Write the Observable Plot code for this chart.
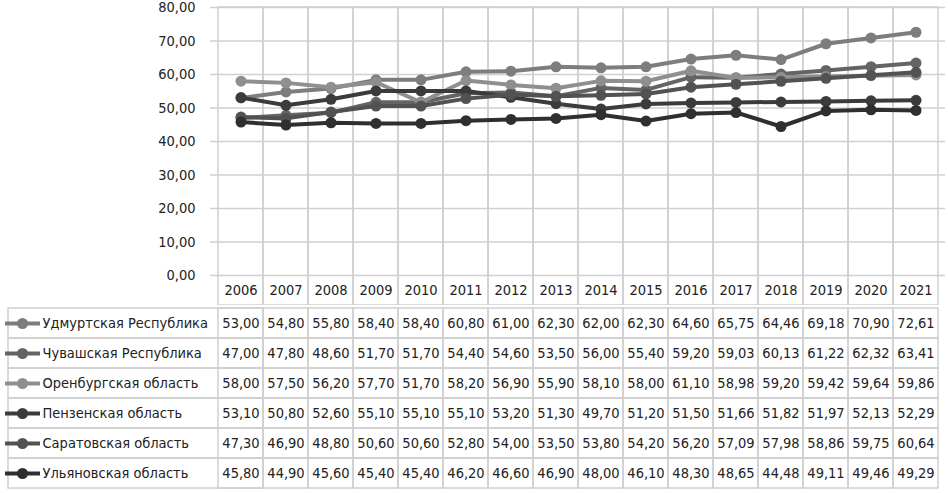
<!DOCTYPE html>
<html>
<head>
<meta charset="utf-8">
<script src="https://cdn.jsdelivr.net/npm/d3@7"></script>
<script src="https://cdn.jsdelivr.net/npm/@observablehq/plot@0.6"></script>
<style>
  html, body { margin: 0; padding: 0; background: #fff; }
  #chart svg { display: block; }
</style>
</head>
<body>
<div id="chart"></div>
<script>
const years = [2006, 2007, 2008, 2009, 2010, 2011, 2012, 2013, 2014, 2015, 2016, 2017, 2018, 2019, 2020, 2021];
const seriesNames = ["Удмуртская Республика", "Чувашская Республика", "Оренбургская область", "Пензенская область", "Саратовская область", "Ульяновская область"];
const udmurt    = [53.00, 54.80, 55.80, 58.40, 58.40, 60.80, 61.00, 62.30, 62.00, 62.30, 64.60, 65.75, 64.46, 69.18, 70.90, 72.61];
const chuvash   = [47.00, 47.80, 48.60, 51.70, 51.70, 54.40, 54.60, 53.50, 56.00, 55.40, 59.20, 59.03, 60.13, 61.22, 62.32, 63.41];
const orenburg  = [58.00, 57.50, 56.20, 57.70, 51.70, 58.20, 56.90, 55.90, 58.10, 58.00, 61.10, 58.98, 59.20, 59.42, 59.64, 59.86];
const penza     = [53.10, 50.80, 52.60, 55.10, 55.10, 55.10, 53.20, 51.30, 49.70, 51.20, 51.50, 51.66, 51.82, 51.97, 52.13, 52.29];
const saratov   = [47.30, 46.90, 48.80, 50.60, 50.60, 52.80, 54.00, 53.50, 53.80, 54.20, 56.20, 57.09, 57.98, 58.86, 59.75, 60.64];
const ulyanovsk = [45.80, 44.90, 45.60, 45.40, 45.40, 46.20, 46.60, 46.90, 48.00, 46.10, 48.30, 48.65, 44.48, 49.11, 49.46, 49.29];
const yTicks = [0, 10, 20, 30, 40, 50, 60, 70, 80];

const colors = ["#7d7d7d", "#646464", "#8f8f8f", "#3b3b3b", "#525252", "#2f2f2f"];
const gridColor = "#d0d0d0";
const font = "'DejaVu Sans Condensed', 'Liberation Sans', sans-serif";
const fs = 14.5;

const seriesValues = [udmurt, chuvash, orenburg, penza, saratov, ulyanovsk];
const rows = seriesNames.flatMap((name, i) => years.map((y, j) => ({series: name, year: y, value: seriesValues[i][j]})));
const fmt = v => d3.format(".2f")(v).replace(".", ",");

const W = 948;
const ML = 210, MR = 3;

const chartPlot = Plot.plot({
  width: W,
  height: 305,
  marginTop: 7,
  marginBottom: 30,
  marginLeft: ML,
  marginRight: MR,
  style: {fontFamily: font, fontSize: fs + "px", color: "#222", background: "#fff"},
  x: {type: "band", domain: years, padding: 0},
  y: {domain: [0, 80], ticks: yTicks},
  color: {domain: seriesNames, range: colors},
  marks: [
    Plot.ruleY(yTicks, {stroke: gridColor, strokeWidth: 1.5}),
    Plot.cell(years, {x: d => d, fill: "none", stroke: gridColor, strokeWidth: 1.5, insetBottom: -30}),
    Plot.axisY({ticks: yTicks, tickSize: 0, tickPadding: 15, tickFormat: fmt, label: null}),
    Plot.axisX({tickSize: 0, tickPadding: 9, tickFormat: d => String(d), label: null}),
    ...seriesNames.flatMap(name => {
      const d = rows.filter(r => r.series === name);
      return [
        Plot.line(d, {x: "year", y: "value", stroke: "series", strokeWidth: 4}),
        Plot.dot(d, {x: "year", y: "value", fill: "series", r: 5.5})
      ];
    })
  ]
});

const tablePlot = Plot.plot({
  width: W,
  height: 188,
  marginTop: 1,
  marginBottom: 3,
  marginLeft: ML,
  marginRight: MR,
  style: {fontFamily: font, fontSize: fs + "px", color: "#222", background: "#fff"},
  x: {type: "band", domain: years, padding: 0, axis: null},
  y: {type: "band", domain: seriesNames, padding: 0, axis: null},
  color: {domain: seriesNames, range: colors},
  marks: [
    Plot.cell(rows, {x: "year", y: "series", fill: "none", stroke: gridColor, strokeWidth: 1.5}),
    Plot.cell(seriesNames, {x: () => years[0], y: d => d, fill: "none", stroke: gridColor, strokeWidth: 1.5, insetLeft: -ML}),
    Plot.text(rows, {x: "year", y: "series", text: d => fmt(d.value), fill: "#222", fontSize: fs}),
    Plot.ruleY(seriesNames, {y: d => d, stroke: d => d, strokeWidth: 4, insetLeft: -205, insetRight: W - MR - 40}),
    Plot.dot(seriesNames, {y: d => d, frameAnchor: "left", dx: -188, r: 5.5, fill: d => d}),
    Plot.text(seriesNames, {y: d => d, frameAnchor: "left", dx: -168, textAnchor: "start", text: d => d, fill: "#222", fontSize: fs})
  ]
});

const el = document.getElementById("chart");
el.appendChild(chartPlot);
el.appendChild(tablePlot);
</script>
</body>
</html>
